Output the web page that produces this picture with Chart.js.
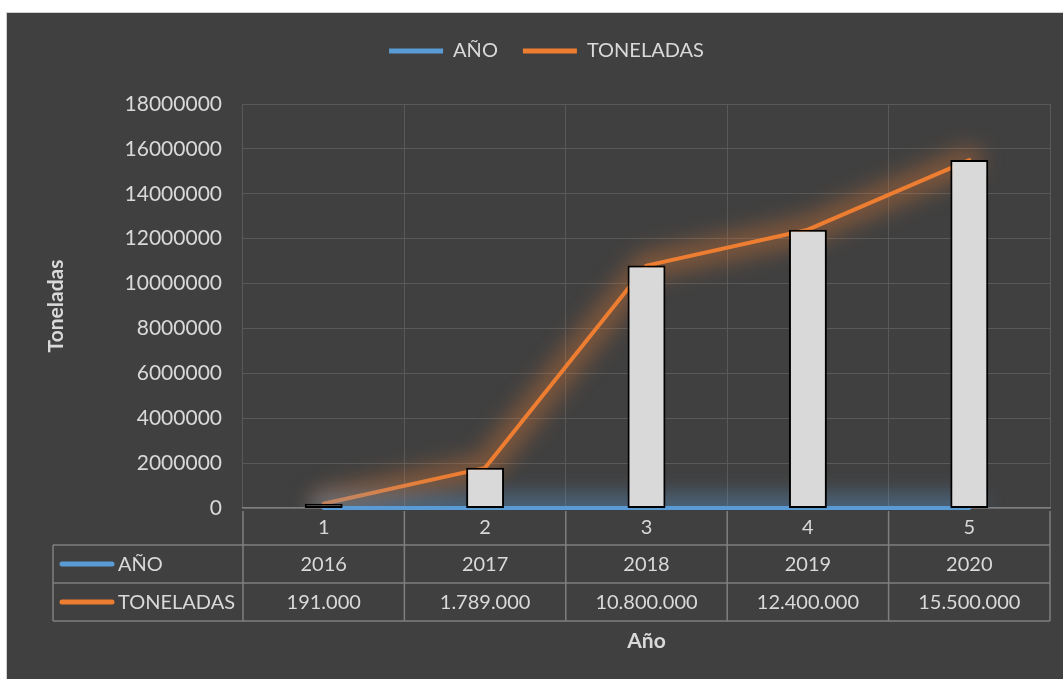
<!DOCTYPE html>
<html>
<head>
<meta charset="utf-8">
<script src="https://cdn.jsdelivr.net/npm/chart.js@4.4.1/dist/chart.umd.min.js"></script>
<style>
  html, body { margin: 0; padding: 0; background: #fff; overflow: hidden; }
  #wrap {
    position: absolute; left: 6px; top: 12px;
    width: 1056px; height: 666px;
    border-top: 1px solid #d0d0d0; border-left: 1px solid #d0d0d0;
    background: #404040;
  }
  canvas { display: block; }
</style>
</head>
<body>
<div id="wrap"><canvas id="chart"></canvas></div>
<script>
const categories = ['1', '2', '3', '4', '5'];
const anos = [2016, 2017, 2018, 2019, 2020];
const toneladas = [191000, 1789000, 10800000, 12400000, 15500000];
const yMax = 18000000;
const yStep = 2000000;

const textColor = '#d9d9d9';
const tableLine = '#7f7f7f';
const fontFamily = 'Lato, "Open Sans", sans-serif';

function miles(v) {
  return String(v).replace(/\B(?=(\d{3})+(?!\d))/g, '.');
}

// blurred halo behind each line, following the points the library placed
const glowPlugin = {
  id: 'glow',
  beforeDatasetDraw(chart, args) {
    const ds = chart.data.datasets[args.index];
    if (!ds.glow) return;
    const ctx = chart.ctx;
    const area = chart.chartArea;
    const pts = args.meta.data;
    ctx.save();
    ctx.beginPath();
    ctx.rect(area.left, area.top - 20, area.right - area.left, area.bottom - area.top + 20);
    ctx.clip();
    ctx.filter = 'blur(11px)';
    ctx.globalAlpha = ds.glowAlpha;
    ctx.strokeStyle = ds.borderColor;
    ctx.lineWidth = 26;
    ctx.lineCap = 'round';
    ctx.lineJoin = 'round';
    ctx.beginPath();
    pts.forEach((p, i) => (i ? ctx.lineTo(p.x, p.y) : ctx.moveTo(p.x, p.y)));
    ctx.stroke();
    ctx.restore();
  }
};

// legend: leave more room under it and nudge it right like the original
const legendSpace = {
  id: 'legendSpace',
  afterInit(chart) {
    const lg = chart.legend;
    const fit = lg.fit.bind(lg);
    const draw = lg.draw.bind(lg);
    lg.fit = function () { fit(); this.height += 33; };
    lg.draw = function () {
      chart.ctx.save();
      chart.ctx.translate(18, 0);
      draw();
      chart.ctx.restore();
    };
  }
};

// data table under the plot, laid out on the x scale
const tablePlugin = {
  id: 'dataTable',
  afterDraw(chart) {
    const ctx = chart.ctx;
    const x = chart.scales.x;
    const area = chart.chartArea;
    const step = (x.right - x.left) / categories.length;
    const headLeft = 46;
    const y0 = area.bottom;
    const y1 = y0 + 37;
    const y2 = y1 + 38;
    const y3 = y2 + 38;

    ctx.save();
    ctx.strokeStyle = tableLine;
    ctx.lineWidth = 1.5;
    ctx.beginPath();
    [y1, y2, y3].forEach(y => { ctx.moveTo(headLeft, y); ctx.lineTo(x.right, y); });
    for (let i = 0; i <= categories.length; i++) {
      const px = x.left + i * step;
      ctx.moveTo(px, y0 + 3);
      ctx.lineTo(px, y3);
    }
    ctx.moveTo(headLeft, y1);
    ctx.lineTo(headLeft, y3);
    ctx.stroke();

    ctx.fillStyle = textColor;
    ctx.font = '20px ' + fontFamily;
    ctx.textAlign = 'center';
    ctx.textBaseline = 'middle';
    categories.forEach((c, i) => {
      const cx = x.getPixelForValue(i);
      ctx.fillText(c, cx, (y0 + y1) / 2 + 1);
      ctx.fillText(String(anos[i]), cx, (y1 + y2) / 2 + 1);
      ctx.fillText(miles(toneladas[i]), cx, (y2 + y3) / 2 + 1);
    });

    const rows = [
      { label: 'AÑO', color: '#5b9bd5', y: (y1 + y2) / 2 },
      { label: 'TONELADAS', color: '#ed7d31', y: (y2 + y3) / 2 }
    ];
    rows.forEach(r => {
      ctx.strokeStyle = r.color;
      ctx.lineWidth = 5;
      ctx.lineCap = 'round';
      ctx.beginPath();
      ctx.moveTo(55, r.y);
      ctx.lineTo(105, r.y);
      ctx.stroke();
      ctx.textAlign = 'left';
      ctx.fillText(r.label, 111, r.y + 1);
    });
    ctx.restore();
  }
};

new Chart(document.getElementById('chart'), {
  type: 'bar',
  data: {
    labels: categories,
    datasets: [
      {
        type: 'bar',
        label: 'barras',
        data: anos.map((a, i) => [a, toneladas[i]]),
        backgroundColor: '#d9d9d9',
        borderColor: '#000000',
        borderWidth: 2,
        borderSkipped: false,
        categoryPercentage: 1,
        barPercentage: 0.235,
        order: 0
      },
      {
        type: 'line',
        label: 'AÑO',
        data: anos,
        borderColor: '#5b9bd5',
        backgroundColor: '#5b9bd5',
        borderWidth: 4,
        borderCapStyle: 'round',
        pointRadius: 0,
        clip: 6,
        glow: true,
        glowAlpha: 0.45,
        order: 1
      },
      {
        type: 'line',
        label: 'TONELADAS',
        data: toneladas,
        borderColor: '#ed7d31',
        backgroundColor: '#ed7d31',
        borderWidth: 4,
        borderCapStyle: 'round',
        borderJoinStyle: 'round',
        pointRadius: 0,
        clip: 6,
        glow: true,
        glowAlpha: 0.38,
        order: 2
      }
    ]
  },
  options: {
    responsive: true,
    maintainAspectRatio: false,
    animation: false,
    layout: { padding: { top: 3, right: 13, bottom: 0, left: 0 } },
    plugins: {
      tooltip: { enabled: false },
      legend: {
        position: 'top',
        labels: {
          color: textColor,
          font: { family: fontFamily, size: 20 },
          boxWidth: 54,
          boxHeight: 5,
          padding: 25,
          generateLabels: chart => Chart.defaults.plugins.legend.labels.generateLabels(chart)
            .filter(l => l.datasetIndex !== 0)
            .map(l => Object.assign(l, { lineWidth: 0 }))
        }
      }
    },
    scales: {
      x: {
        grid: { color: '#595959', lineWidth: 1, drawTicks: false, offset: true },
        border: { color: tableLine, width: 1.5 },
        ticks: { display: false },
        title: {
          display: true,
          text: 'Año',
          color: textColor,
          font: { family: fontFamily, size: 21, weight: 'bold' },
          padding: { top: 0, bottom: 25 }
        },
        afterFit: scale => { scale.height = 171; }
      },
      y: {
        min: 0,
        max: yMax,
        ticks: {
          stepSize: yStep,
          color: textColor,
          font: { family: fontFamily, size: 21 },
          padding: 21,
          callback: v => String(v)
        },
        grid: { color: '#595959', lineWidth: 1, drawTicks: false },
        border: { display: false },
        title: {
          display: true,
          text: 'Toneladas',
          color: textColor,
          font: { family: fontFamily, size: 21, weight: 'bold' },
          padding: { top: 37, bottom: 0 }
        },
        afterFit: scale => { scale.width = 236; }
      }
    }
  },
  plugins: [glowPlugin, legendSpace, tablePlugin]
});
</script>
</body>
</html>
